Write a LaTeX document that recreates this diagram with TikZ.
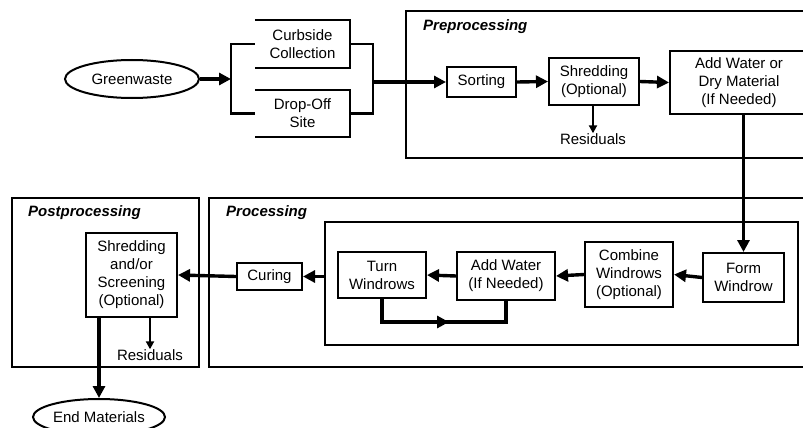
\documentclass[tikz,border=0pt]{standalone}
\usepackage{fontspec}
\setmainfont{Liberation Sans}
\usetikzlibrary{arrows.meta,shapes.geometric}

\begin{document}
\begin{tikzpicture}[x=1pt, y=-1pt,
  every node/.style={font=\fontsize{15}{18}\selectfont, align=center, inner sep=0pt},
  box/.style={draw, line width=2pt},
  blob/.style={ellipse, draw, line width=2pt},
  frame/.style={line width=2pt},
  flow/.style={line width=3.4pt, -{Triangle[length=12pt,width=12pt]}},
  side/.style={line width=2pt, -{Triangle[length=8pt,width=8pt]}},
  title/.style={font=\fontsize{15}{18}\selectfont\bfseries\itshape, anchor=west}]

\clip (0,0) rectangle (803,428);

% Stage frames
\draw[frame] (406,11) rectangle (840,158);
\draw[frame] (209,198) rectangle (840,367);
\draw[frame] (12,198) rectangle (199,367);
\node[title] (pretitle) at (423,27) {Preprocessing};
\node[title] (protitle) at (226,213) {Processing};
\node[title] (posttitle) at (28,213) {Postprocessing};

% Collection
\node[blob, minimum width=134pt, minimum height=38pt] (green) at (132,79) {Greenwaste};
\node[minimum width=95pt, minimum height=48pt] (curb) at (302.5,44) {Curbside\\Collection};
\node[minimum width=95pt, minimum height=47pt] (drop) at (302.5,113.5) {Drop-Off\\Site};
\draw[frame] (curb.north west) -- (curb.north east) -- (curb.south east) -- (curb.south west);
\draw[frame] (drop.north west) -- (drop.north east) -- (drop.south east) -- (drop.south west);

\coordinate (split) at (231,79);
\coordinate (join) at (373,82);
\draw[flow] (green.east) -- (split);
\draw[frame, line width=2.4pt] (curb.west) -| (split) |- (drop.west);
\draw[frame, line width=2.4pt] (curb.east) -| (join) |- (drop.east);

% Preprocessing steps
\node[box, minimum width=69pt, minimum height=30pt] (sort) at (481.5,82) {Sorting};
\node[box, minimum width=90pt, minimum height=47pt] (shred) at (594,81.5) {Shredding\\(Optional)};
\node[box, minimum width=138pt, minimum height=62pt] (adddry) at (739,82.5) {Add Water or\\Dry Material\\(If Needed)};
\node (resid) at (593,139) {Residuals};

\draw[flow] (join) -- (sort.west);
\draw[flow] (sort.east) -- (shred.west);
\draw[flow] (shred.east) -- (adddry.west);
\draw[side] (resid.north |- shred.south) -- (resid.north);

% Processing steps
\node[box, minimum width=473pt, minimum height=123pt] (windrows) at (561.5,283.5) {};
\node[box, minimum width=81pt, minimum height=49pt] (form) at (743.5,277.5) {Form\\Windrow};
\node[box, minimum width=88pt, minimum height=65pt] (combine) at (629,274.5) {Combine\\Windrows\\(Optional)};
\node[box, minimum width=98pt, minimum height=48pt] (addw) at (506,276) {Add Water\\(If Needed)};
\node[box, minimum width=88pt, minimum height=46pt] (turn) at (382,275) {Turn\\Windrows};
\node[box, minimum width=65pt, minimum height=27pt] (curing) at (269.5,276.5) {Curing};

\draw[flow] (form.north |- adddry.south) -- (form.north);
\draw[flow] (form.west) -- (combine.east);
\draw[flow] (combine.west) -- (addw.east);
\draw[flow] (addw.west) -- (turn.west -| turn.east);

% repeat turning loop
\coordinate (loopmid) at (449,322);
\draw[line width=3.4pt] (turn.south) |- (loopmid) -| (addw.south);
\draw[flow] ([xshift=-14pt]loopmid) -- (loopmid);

\draw[flow] (windrows.west |- curing.east) -- (curing.east);

% Postprocessing
\node[box, minimum width=91pt, minimum height=84pt] (screen) at (131.5,275) {Shredding\\and/or\\Screening\\(Optional)};
\node (resid2) at (150,355) {Residuals};
\node[blob, minimum width=132pt, minimum height=36pt] (endmat) at (99,417) {End Materials};

\draw[flow] (curing.west) -- (screen.east);
\draw[side] (resid2.north |- screen.south) -- (resid2.north);
\draw[flow] (endmat.north |- screen.south) -- (endmat.north);

\end{tikzpicture}
\end{document}
